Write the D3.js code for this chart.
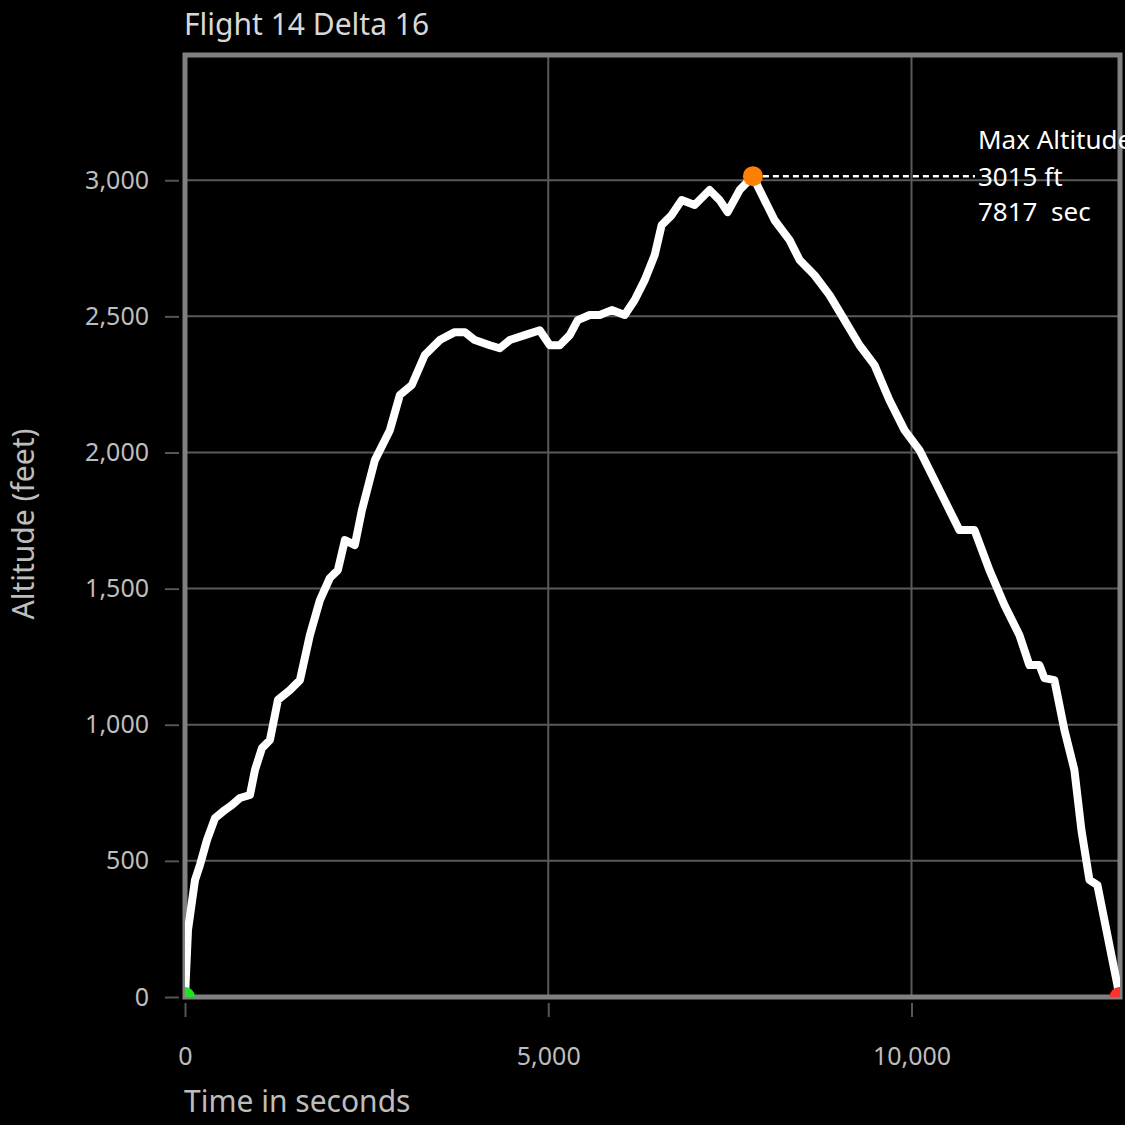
<!DOCTYPE html>
<html>
<head>
<meta charset="utf-8">
<script src="https://cdn.jsdelivr.net/npm/d3@7"></script>
<style>
  body { margin: 0; background: #000; overflow: hidden; }
  text { font-family: "Noto Sans", Lato, sans-serif; white-space: pre; }
</style>
</head>
<body>
<div id="chart"></div>
<script>
// time (s) and altitude (ft)
const times = [0, 41, 138, 206, 303, 413, 550, 646, 756, 894, 963, 1059, 1169, 1279, 1444, 1582, 1719, 1857, 1994, 2104, 2201, 2338, 2435, 2614, 2820, 2957, 3122, 3301, 3507, 3714, 3851, 3989, 4195, 4333, 4470, 4677, 4883, 5021, 5158, 5296, 5406, 5571, 5708, 5874, 6052, 6190, 6327, 6465, 6561, 6699, 6836, 7015, 7221, 7359, 7469, 7634, 7817, 7909, 8116, 8322, 8460, 8666, 8872, 9078, 9285, 9491, 9697, 9904, 10110, 10316, 10523, 10660, 10867, 11073, 11279, 11486, 11623, 11761, 11830, 11967, 12105, 12242, 12339, 12449, 12559, 12655, 12834, 12862];
const altitudes = [0, 246, 430, 485, 577, 657, 687, 705, 731, 742, 834, 914, 944, 1091, 1127, 1164, 1329, 1458, 1539, 1568, 1678, 1660, 1788, 1972, 2082, 2211, 2248, 2358, 2413, 2442, 2442, 2413, 2394, 2383, 2413, 2431, 2449, 2394, 2394, 2431, 2486, 2505, 2505, 2523, 2505, 2560, 2633, 2725, 2835, 2872, 2927, 2909, 2964, 2927, 2883, 2964, 3015, 2964, 2853, 2780, 2707, 2651, 2578, 2486, 2394, 2321, 2192, 2082, 2009, 1899, 1788, 1715, 1715, 1568, 1440, 1329, 1219, 1219, 1171, 1164, 981, 834, 613, 430, 411, 283, 44, 0];
const xTicks = [0, 5000, 10000];
const yTicks = [0, 500, 1000, 1500, 2000, 2500, 3000];
const maxPoint = {t: 7817, alt: 3015};

const data = times.map((t, i) => ({t: t, alt: altitudes[i]}));

const width = 1125, height = 1125;
const margin = {top: 55, right: 5, bottom: 128, left: 185};
const w = width - margin.left - margin.right;
const h = height - margin.top - margin.bottom;

const svg = d3.select("#chart").append("svg")
    .attr("width", width)
    .attr("height", height);

const x = d3.scaleLinear().domain([0, 12870]).range([0, w]);
const y = d3.scaleLinear().domain([0, 3460]).range([h, 0]);

const g = svg.append("g").attr("transform", `translate(${margin.left},${margin.top})`);

svg.append("defs").append("clipPath").attr("id", "plotclip")
    .append("rect").attr("width", w).attr("height", h);

// grid
g.selectAll(".gx").data(xTicks).join("line")
    .attr("x1", d => x(d)).attr("x2", d => x(d))
    .attr("y1", 0).attr("y2", h)
    .attr("stroke", "#5a5a5a").attr("stroke-width", 2);
g.selectAll(".gy").data(yTicks).join("line")
    .attr("x1", 0).attr("x2", w)
    .attr("y1", d => y(d)).attr("y2", d => y(d))
    .attr("stroke", "#5a5a5a").attr("stroke-width", 2);

// axes
const xAxis = g.append("g").attr("transform", `translate(0,${h})`)
    .call(d3.axisBottom(x).tickValues(xTicks).tickFormat(d3.format(",")).tickSize(22).tickPadding(28));
const yAxis = g.append("g")
    .call(d3.axisLeft(y).tickValues(yTicks).tickFormat(d3.format(",")).tickSize(22).tickPadding(14));
[xAxis, yAxis].forEach(a => {
    a.select(".domain").remove();
    a.selectAll("line").attr("stroke", "#555").attr("stroke-width", 2)
        .attr("stroke-dasharray", "14,8");
    a.selectAll("text").attr("fill", "#bdbdbd").style("font-size", "25px")
        .style("font-family", "'Noto Sans', Lato, sans-serif");
});
xAxis.selectAll("line").attr("y1", 6);
yAxis.selectAll("line").attr("x1", -6);

// frame
g.append("rect").attr("x", 0).attr("y", 0).attr("width", w).attr("height", h)
    .attr("fill", "none").attr("stroke", "#808080").attr("stroke-width", 5);

const plot = g.append("g").attr("clip-path", "url(#plotclip)");

const line = d3.line().x(d => x(d.t)).y(d => y(d.alt)).curve(d3.curveLinear);
plot.append("path").datum(data)
    .attr("d", line)
    .attr("fill", "none").attr("stroke", "#fff").attr("stroke-width", 8)
    .attr("stroke-linejoin", "round").attr("stroke-linecap", "round");

// start / end markers
plot.append("circle").attr("cx", x(0)).attr("cy", y(0)).attr("r", 10).attr("fill", "#22e022");
plot.append("circle").attr("cx", x(times[times.length - 1])).attr("cy", y(0)).attr("r", 10).attr("fill", "#ff3030");

// max altitude annotation
const mx = x(maxPoint.t), my = y(maxPoint.alt);
g.append("line").attr("x1", mx).attr("x2", 790).attr("y1", my).attr("y2", my)
    .attr("stroke", "#fff").attr("stroke-width", 2.5).attr("stroke-dasharray", "6,4");
g.append("circle").attr("cx", mx).attr("cy", my).attr("r", 10).attr("fill", "#ff8000");
const ann = g.append("text").attr("x", 793).attr("fill", "#fff").style("font-size", "26px");
ann.append("tspan").attr("x", 793).attr("y", my - 27).text("Max Altitude");
ann.append("tspan").attr("x", 793).attr("y", my + 10).text(maxPoint.alt + " ft");
ann.append("tspan").attr("x", 793).attr("y", my + 45).text(maxPoint.t + "  sec");

// titles
svg.append("text").attr("x", 184).attr("y", 35).attr("fill", "#d8d8d8")
    .style("font-size", "30px").text("Flight 14 Delta 16");
svg.append("text").attr("x", 184).attr("y", 1112).attr("fill", "#bdbdbd")
    .style("font-size", "30px").text("Time in seconds");
svg.append("text").attr("transform", `translate(34,${margin.top + h / 2 - 2}) rotate(-90)`)
    .attr("text-anchor", "middle").attr("fill", "#bdbdbd")
    .style("font-size", "30px").text("Altitude (feet)");
</script>
</body>
</html>
